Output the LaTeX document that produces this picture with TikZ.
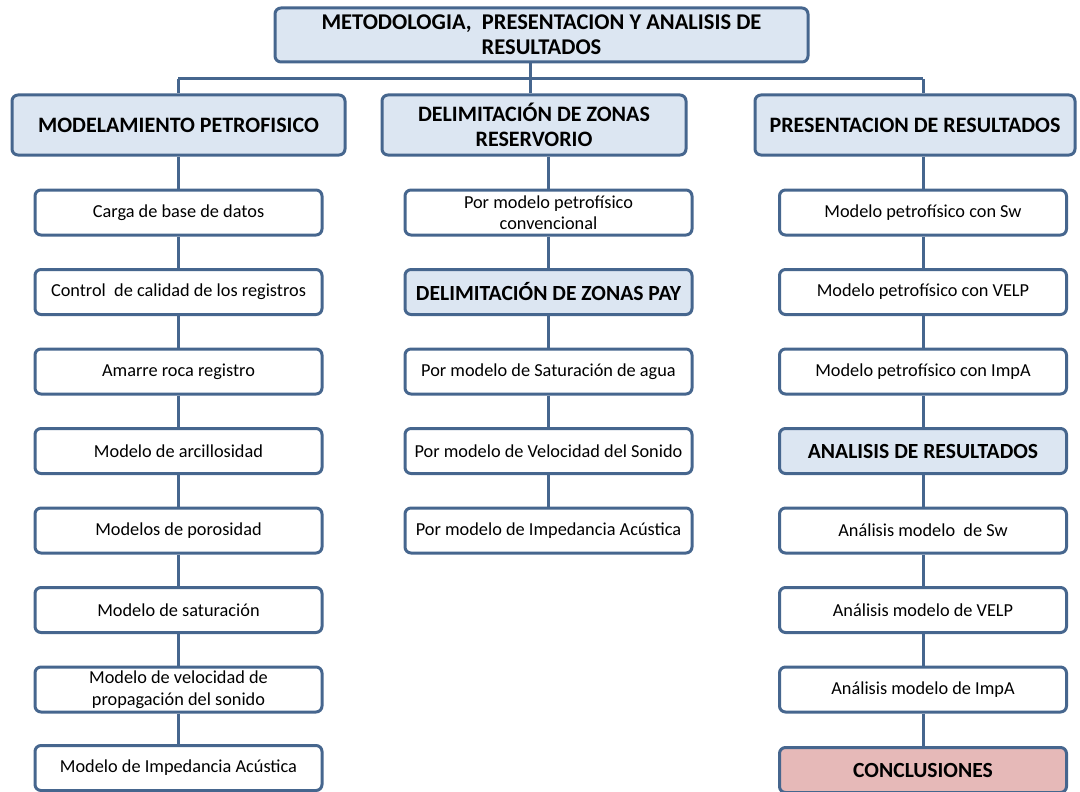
\documentclass[tikz,border=0pt]{standalone}
\usepackage{fontspec}
\setmainfont{Carlito}
\definecolor{bordc}{RGB}{70,102,142}
\definecolor{hdrfill}{RGB}{220,230,242}
\definecolor{concfill}{RGB}{230,185,184}
\tikzset{
  base/.style={draw=bordc, line width=3pt, rounded corners=6pt, align=center, inner sep=2pt},
  topbox/.style={base, fill=hdrfill, minimum width=533pt, minimum height=54pt, font=\fontsize{22.5}{25}\selectfont\bfseries},
  hdrbox/.style={base, fill=hdrfill, minimum height=60pt, font=\fontsize{22}{25}\selectfont\bfseries},
  subbox/.style={base, fill=white, minimum width=287pt, minimum height=45pt, font=\fontsize{18.3}{21.5}\selectfont},
  subhdr/.style={base, fill=hdrfill, minimum width=287pt, minimum height=45pt, font=\fontsize{21.6}{25}\selectfont\bfseries},
  concbox/.style={base, fill=concfill, minimum width=287pt, minimum height=45pt, font=\fontsize{21.6}{25}\selectfont\bfseries},
  conn/.style={draw=bordc, line width=3pt}
}
\begin{document}
\begin{tikzpicture}[x=1pt,y=-1pt]
\useasboundingbox (0,0) rectangle (1080,792);
\coordinate (tj) at (530,79);
\coordinate (lj) at (178,79);
\coordinate (rj) at (923,79);
% top
\node[topbox] (top) at (541.5,35) {METODOLOGIA,\ \ PRESENTACION Y ANALISIS DE\\RESULTADOS};
% headers
\node[hdrbox, minimum width=333pt] (h1) at (178.5,125) {MODELAMIENTO PETROFISICO};
\node[hdrbox, minimum width=304pt] (h2) at (534,125) {DELIMITACIÓN DE ZONAS\\RESERVORIO};
\node[hdrbox, minimum width=320pt] (h3) at (915,125) {PRESENTACION DE RESULTADOS};
% left column
\node[subbox] (l1) at (178.5,212.5) {Carga de base de datos};
\node[subbox] (l2) at (178.5,292) {Control\ \ de calidad de los registros};
\node[subbox] (l3) at (178.5,371.5) {Amarre roca registro};
\node[subbox] (l4) at (178.5,451) {Modelo de arcillosidad};
\node[subbox] (l5) at (178.5,530.5) {Modelos de porosidad};
\node[subbox] (l6) at (178.5,610) {Modelo de saturación};
\node[subbox] (l7) at (178.5,689.5) {Modelo de velocidad de\\propagación del sonido};
\node[subbox] (l8) at (178.5,768) {Modelo de Impedancia Acústica};
% middle column
\node[subbox] (m1) at (548.5,212.5) {Por modelo petrofísico\\convencional};
\node[subhdr] (m2) at (548.5,292) {DELIMITACIÓN DE ZONAS PAY};
\node[subbox] (m3) at (548.5,371.5) {Por modelo de Saturación de agua};
\node[subbox] (m4) at (548.5,451) {Por modelo de Velocidad del Sonido};
\node[subbox] (m5) at (548.5,530.5) {Por modelo de Impedancia Acústica};
% right column
\node[subbox] (r1) at (923,212.5) {Modelo petrofísico con Sw};
\node[subbox] (r2) at (923,292) {Modelo petrofísico con VELP};
\node[subbox] (r3) at (923,371.5) {Modelo petrofísico con ImpA};
\node[subhdr] (r4) at (923,451) {ANALISIS DE RESULTADOS};
\node[subbox] (r5) at (923,530.5) {Análisis modelo\ \ de Sw};
\node[subbox] (r6) at (923,610) {Análisis modelo de VELP};
\node[subbox] (r7) at (923,689.5) {Análisis modelo de ImpA};
\node[concbox] (r8) at (923,770) {CONCLUSIONES};
% connectors
\draw[conn] (top.south -| tj) -- (tj);
\draw[conn] (lj) -- (rj);
\draw[conn] (lj) -- (h1.north -| lj);
\draw[conn] (tj) -- (h2.north -| tj);
\draw[conn] (rj) -- (h3.north -| rj);
\draw[conn] (h1.south -| l1) -- (l1.north);
\foreach \a/\b in {l1/l2,l2/l3,l3/l4,l4/l5,l5/l6,l6/l7,l7/l8,m1/m2,m2/m3,m3/m4,m4/m5,r1/r2,r2/r3,r3/r4,r4/r5,r5/r6,r6/r7,r7/r8}
  \draw[conn] (\a.south) -- (\b.north);
\draw[conn] (h2.south -| m1) -- (m1.north);
\draw[conn] (h3.south -| r1) -- (r1.north);
\end{tikzpicture}
\end{document}
